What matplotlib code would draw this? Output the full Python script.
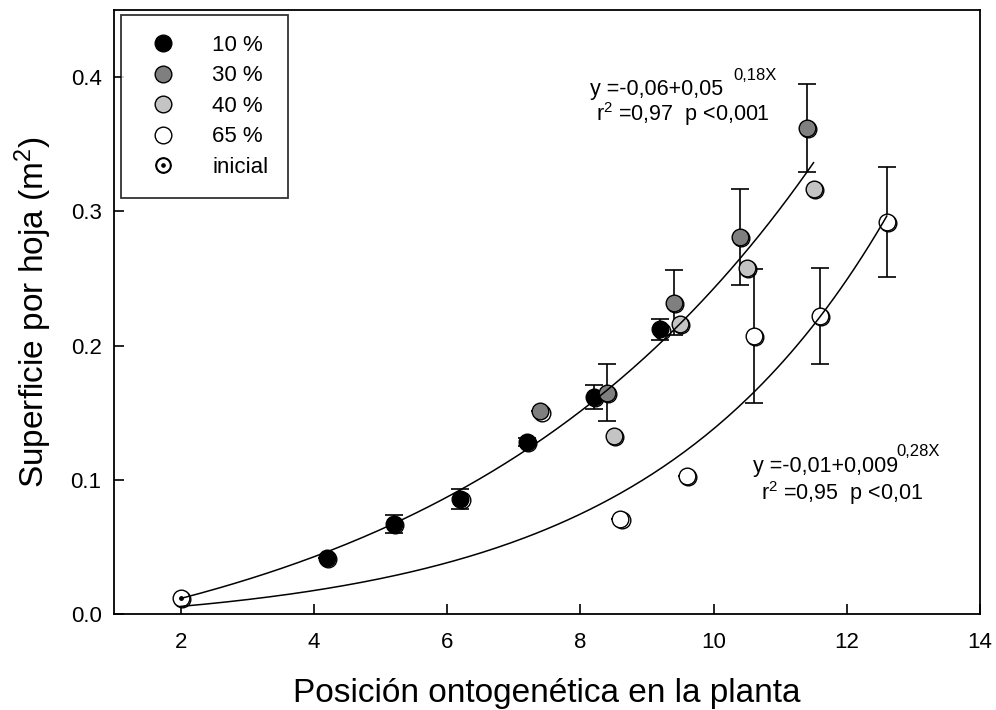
import matplotlib
matplotlib.use("Agg")
import matplotlib.pyplot as plt
import matplotlib.transforms as mtransforms
from matplotlib.lines import Line2D
import numpy as np

plt.rcParams['font.family'] = ['Liberation Sans', 'DejaVu Sans']
plt.rcParams['mathtext.fontset'] = 'custom'
plt.rcParams['mathtext.rm'] = 'Liberation Sans'
plt.rcParams['mathtext.it'] = 'Liberation Sans'

# Datos por tratamiento (posición, superficie media, error)
x_10 = [4.2, 5.2, 6.2, 7.2, 8.2, 9.2]
y_10 = [0.042, 0.067, 0.086, 0.128, 0.162, 0.212]
e_10 = [0.0, 0.0065, 0.0075, 0.003, 0.009, 0.008]

x_30 = [7.4, 8.4, 9.4, 10.4, 11.4]
y_30 = [0.151, 0.165, 0.232, 0.281, 0.362]
e_30 = [0.0, 0.021, 0.024, 0.036, 0.033]

x_40 = [8.5, 9.5, 10.5, 11.5]
y_40 = [0.133, 0.216, 0.258, 0.317]

x_65 = [8.6, 9.6, 10.6, 11.6, 12.6]
y_65 = [0.071, 0.103, 0.207, 0.222, 0.292]
e_65 = [0.0, 0.0, 0.050, 0.036, 0.041]

x_ini = [2.0]
y_ini = [0.012]

# Ajustes exponenciales y = a + b*exp(c*x)
fit1 = (-0.06, 0.05, 0.18, 2.0, 11.5)
fit2 = (-0.01, 0.009, 0.28, 2.0, 12.6)

fig = plt.figure(figsize=(9.96, 7.10), dpi=100)
ax = fig.add_axes([0.1145, 0.135, 0.8695, 0.851])

ms = 12
shadow = mtransforms.offset_copy(ax.transData, fig=fig, x=1.2, y=-1.2, units='dots')


def serie(x, y, color, err=None):
    if err is not None:
        ax.errorbar(x, y, yerr=err, fmt='none', ecolor='black', elinewidth=1.2,
                    capsize=6.5, capthick=1.2, zorder=2)
    ax.plot(x, y, 'o', ms=ms, mfc='none', mec='black', mew=1.0,
            transform=shadow, zorder=3)
    ax.plot(x, y, 'o', ms=ms, mfc=color, mec='black', mew=1.0, zorder=4)


serie(x_10, y_10, 'black', e_10)
serie(x_30, y_30, '#7f7f7f', e_30)
serie(x_40, y_40, '#c4c4c4')
serie(x_65, y_65, 'white', e_65)
serie(x_ini, y_ini, 'white')
ax.plot(x_ini, y_ini, '.', ms=5, color='black', zorder=5)

for a, b, c, x0, x1 in (fit1, fit2):
    xs = np.linspace(x0, x1, 200)
    ax.plot(xs, a + b * np.exp(c * xs), color='black', lw=1.1, zorder=6)

ax.set_xlim(1, 14)
ax.set_ylim(0, 0.45)
ax.set_xticks([2, 4, 6, 8, 10, 12, 14])
ax.set_yticks([0.0, 0.1, 0.2, 0.3, 0.4])
ax.set_yticklabels(['0.0', '0.1', '0.2', '0.3', '0.4'])
ax.tick_params(direction='in', length=7, width=1.2, labelsize=16, top=False, right=False)
ax.tick_params(axis='x', pad=13)
ax.tick_params(axis='y', pad=9)
for s in ax.spines.values():
    s.set_linewidth(1.3)

ax.set_xlabel('Posición ontogenética en la planta', fontsize=24, labelpad=18)
ax.set_ylabel('Superficie por hoja (m$^2$)', fontsize=24, labelpad=12)

# Ecuaciones de ajuste
ax.text(8.15, 0.387, 'y =-0,06+0,05', fontsize=15.5, ha='left', va='baseline')
ax.text(10.29, 0.398, '0,18X', fontsize=12, ha='left', va='baseline')
ax.text(8.23, 0.367, 'r$^2$ =0,97  p <0,001', fontsize=15.5, ha='left', va='baseline')

ax.text(10.59, 0.106, 'y =-0,01+0,009', fontsize=15.5, ha='left', va='baseline')
ax.text(12.74, 0.118, '0,28X', fontsize=12, ha='left', va='baseline')
ax.text(10.71, 0.085, 'r$^2$ =0,95  p <0,01', fontsize=15.5, ha='left', va='baseline')

handles = [
    Line2D([], [], ls='none', marker='o', ms=ms, mfc='black', mec='black'),
    Line2D([], [], ls='none', marker='o', ms=ms, mfc='#7f7f7f', mec='black'),
    Line2D([], [], ls='none', marker='o', ms=ms, mfc='#c4c4c4', mec='black'),
    Line2D([], [], ls='none', marker='o', ms=ms, mfc='white', mec='black'),
    Line2D([], [], ls='none', marker='$\\odot$', ms=11, color='black'),
]
labels = ['10 %', '30 %', '40 %', '65 %', 'inicial']
leg = ax.legend(handles, labels, loc='upper left', bbox_to_anchor=(0.008, 0.992),
                fontsize=16, frameon=True, fancybox=False, borderpad=0.9,
                labelspacing=0.43, handletextpad=1.2, handlelength=2.0, borderaxespad=0)
leg.get_frame().set_edgecolor('black')
leg.get_frame().set_linewidth(1.3)

fig.savefig('out.png', dpi=100)
